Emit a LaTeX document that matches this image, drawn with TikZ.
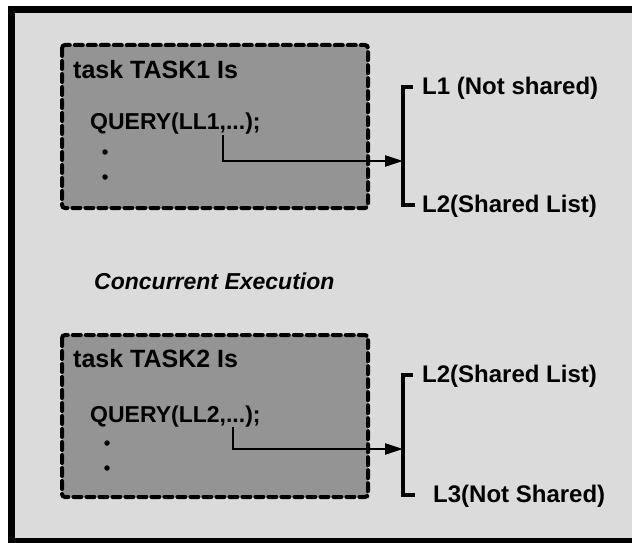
\documentclass[tikz,border=0pt]{standalone}
\usepackage{fontspec}
\setmainfont{Liberation Sans}
\usetikzlibrary{arrows.meta}

\definecolor{paper}{gray}{0.86}
\definecolor{taskfill}{gray}{0.58}

\tikzset{
  frame/.style={draw=black, line width=7pt, fill=paper},
  taskbox/.style={draw=black, fill=taskfill, line width=4pt, dash pattern=on 8pt off 5pt,
                  line cap=round, rounded corners=3pt},
  head/.style={anchor=base west, inner sep=0pt, font=\fontsize{25}{27}\selectfont\bfseries},
  code/.style={anchor=base west, inner sep=0pt, font=\fontsize{23}{25}\selectfont\bfseries},
  listlabel/.style={anchor=base west, inner sep=0pt, font=\fontsize{24}{26}\selectfont\bfseries},
  caption/.style={anchor=base west, inner sep=0pt, font=\fontsize{23}{25}\selectfont\bfseries\itshape},
  link/.style={draw=black, line width=2.5pt, -{Triangle[length=18pt,width=11pt]}},
  brace/.style={draw=black, line width=3.4pt},
  dot/.style={circle, fill=black, inner sep=0pt, minimum size=5.5pt}
}

\begin{document}
\begin{tikzpicture}[x=1pt, y=-1pt]
  \useasboundingbox (0,0) rectangle (632,543);
  \fill[white] (0,0) rectangle (632,543);

  % outer frame (right edge runs off the page)
  \path[frame] (11.5,9.5) rectangle (645,541.5);

  % ---- first task ----
  \path[taskbox] (62,45) rectangle (368,208);
  \node[head] (t1) at (73,78) {task TASK1 Is};
  \node[code] (q1) at (90,129) {QUERY(LL1,...);};
  \node[dot] (d1a) at (105,152) {};
  \node[dot] (d1b) at (105,177) {};

  \coordinate (b1t) at (413,87);
  \coordinate (b1b) at (415,205);
  \coordinate (b1m) at (403,161);
  \coordinate (a1s) at (223,135);
  \draw[brace] (b1t) -| (403,205) -- (b1b);
  \draw[link] (a1s) |- (b1m);
  \node[listlabel] (l1) at (422,95) {L1 (Not shared)};
  \node[listlabel] (l2a) at (422,212) {L2(Shared List)};

  % ---- caption ----
  \node[caption] (conc) at (94,289) {Concurrent Execution};

  % ---- second task ----
  \path[taskbox] (62,335) rectangle (368,497);
  \node[head] (t2) at (73,367) {task TASK2 Is};
  \node[code] (q2) at (90,422) {QUERY(LL2,...);};
  \node[dot] (d2a) at (107,443) {};
  \node[dot] (d2b) at (107,468) {};

  \coordinate (b2t) at (413,375);
  \coordinate (b2b) at (415,495);
  \coordinate (b2m) at (403,449);
  \coordinate (a2s) at (233,427);
  \draw[brace] (b2t) -| (403,495) -- (b2b);
  \draw[link] (a2s) |- (b2m);
  \node[listlabel] (l2b) at (422,382) {L2(Shared List)};
  \node[listlabel] (l3) at (433,502) {L3(Not Shared)};
\end{tikzpicture}
\end{document}
